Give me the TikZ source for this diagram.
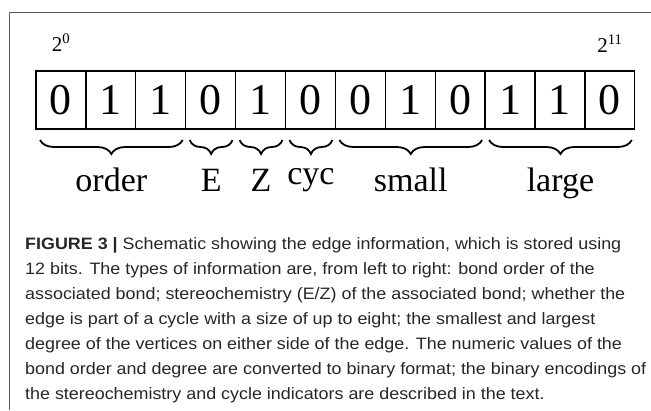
\documentclass[tikz,border=0pt]{standalone}
\usepackage{fontspec}
\setmainfont{Liberation Serif}
\newfontfamily\capfont[FakeStretch=1.085]{Liberation Sans}
\usetikzlibrary{decorations.pathreplacing,calc}
\begin{document}
\begin{tikzpicture}[x=1pt,y=-1pt,
  cell/.style={draw,line width=1.3pt,minimum width=49.9pt,minimum height=58pt,inner sep=0pt,outer sep=0pt,font=\fontsize{44}{44}\selectfont},
  bracedec/.style={decorate,decoration={brace,mirror,amplitude=14pt},line width=1.8pt},
  lab/.style={anchor=base,inner sep=0pt,font=\fontsize{34}{34}\selectfont},
  pow/.style={anchor=base,inner sep=0pt,font=\fontsize{21}{21}\selectfont},
  frame/.style={draw=black!65,line width=1pt}]
\useasboundingbox (0,0) rectangle (651,410);
\draw[frame] (9,410) -- (9,12) -- (651,12);
\foreach \d [count=\i from 0] in {0,1,1,0,1,0,0,1,0,1,1,0}{
  \node[cell] (c\i) at ({36+49.9*\i+24.95},100) {\d};
}
\node[pow] (p0) at (c0.center |- 0,51) {2\textsuperscript{0}};
\node[pow] (p11) at (c11.center |- 0,52) {2\textsuperscript{11}};
% brace end points
\coordinate (o1) at ([shift={(4,11)}]c0.south west);
\coordinate (o2) at ([shift={(-3,11)}]c2.south east);
\coordinate (e1) at ([shift={(4,11)}]c3.south west);
\coordinate (e2) at ([shift={(-3,11)}]c3.south east);
\coordinate (z1) at ([shift={(4,11)}]c4.south west);
\coordinate (z2) at ([shift={(-3,11)}]c4.south east);
\coordinate (y1) at ([shift={(4,11)}]c5.south west);
\coordinate (y2) at ([shift={(-3,11)}]c5.south east);
\coordinate (s1) at ([shift={(4,11)}]c6.south west);
\coordinate (s2) at ([shift={(-3,11)}]c8.south east);
\coordinate (l1) at ([shift={(4,11)}]c9.south west);
\coordinate (l2) at ([shift={(-3,11)}]c11.south east);
\foreach \a/\b in {o1/o2,e1/e2,z1/z2,y1/y2,s1/s2,l1/l2}{
  \draw[bracedec] (\a) -- (\b);
}
\node[lab] (lo) at ($(o1)!0.5!(o2)+(0,51)$) {order};
\node[lab] (le) at ($(e1)!0.5!(e2)+(0,51)$) {E};
\node[lab] (lz) at ($(z1)!0.5!(z2)+(0,51)$) {Z};
\node[lab] (ly) at ($(y1)!0.5!(y2)+(0,44)$) {cyc};
\node[lab] (ls) at ($(s1)!0.5!(s2)+(0,51)$) {small};
\node[lab] (ll) at ($(l1)!0.5!(l2)+(0,51)$) {large};
\node[anchor=base west,align=left,inner sep=0pt,text=black!85,font=\capfont\fontsize{16.5}{25}\selectfont] (cap) at (25,399)
{\textbf{FIGURE 3 |} Schematic showing the edge information, which is stored using\\
12 bits. The types of information are, from left to right: bond order of the\\
associated bond; stereochemistry (E/Z) of the associated bond; whether the\\
edge is part of a cycle with a size of up to eight; the smallest and largest\\
degree of the vertices on either side of the edge. The numeric values of the\\
bond order and degree are converted to binary format; the binary encodings of\\
the stereochemistry and cycle indicators are described in the text.};
\end{tikzpicture}
\end{document}
